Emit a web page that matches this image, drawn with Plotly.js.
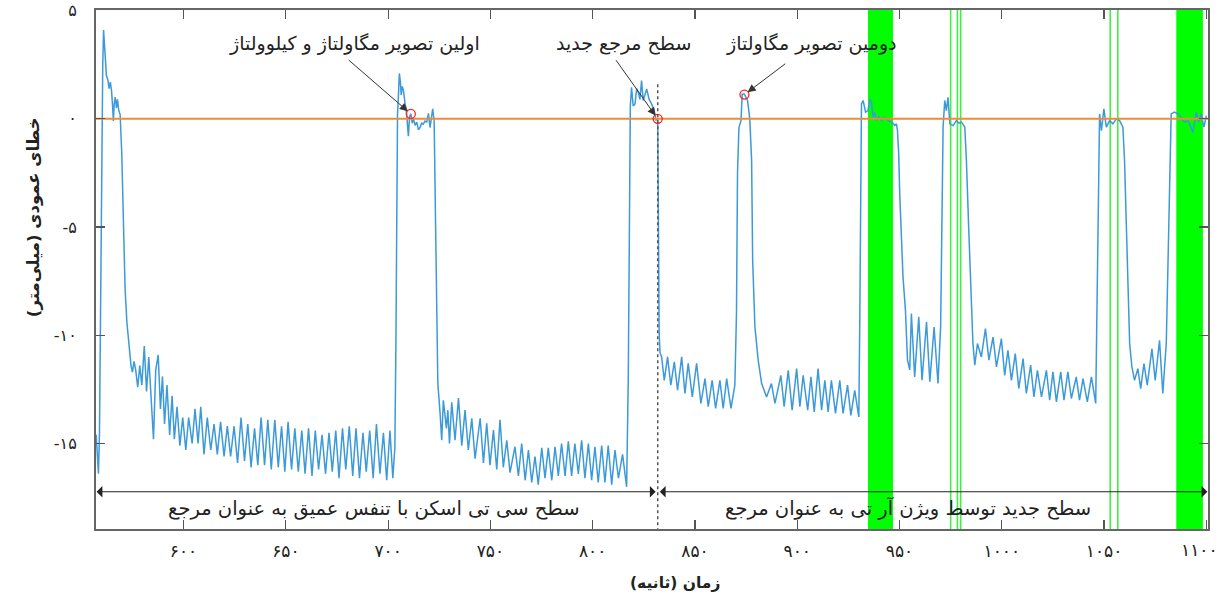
<!DOCTYPE html>
<html>
<head>
<meta charset="utf-8">
<script src="https://cdn.plot.ly/plotly-3.0.1.min.js"></script>
<style>html,body{margin:0;padding:0;background:#fff;}#chart{width:1223px;height:598px;}</style>
</head>
<body>
<div id="chart"></div>
<script>
// ---- data ----
const timeSec = [
557.3,557.9,558.4,558.9,559.3,559.7,560.1,560.5,560.9,561.3,561.8,562.3,563.0,563.6,564.2,564.8,565.3,565.7,566.1,566.6,567.2,567.7,568.3,569.0,569.8,570.6,571.4,572.3,573.3,574.3,575.0,575.8,576.6,577.6,578.6,579.6,580.8,581.9,583.0,584.1,585.3,586.4,587.6,588.7,589.7,590.7,591.9,593.2,594.4,595.5,596.8,598.2,599.6,601.1,602.5,604.2,605.6,607.1,608.4,610.0,611.6,613.3,614.9,616.5,618.1,619.8,621.4,623.0,624.7,626.4,628.1,629.8,631.4,633.0,634.7,636.3,637.9,639.6,641.2,642.9,644.6,646.3,647.9,649.5,651.1,652.8,654.4,656.1,657.8,659.4,661.1,662.8,664.4,666.0,667.7,669.4,671.1,672.7,674.4,676.0,677.7,679.3,681.0,682.7,684.3,686.0,687.7,689.3,691.0,692.7,694.3,696.0,697.7,699.3,700.9,702.3,703.3,703.8,704.2,704.6,705.1,705.5,706.0,706.4,706.9,707.5,708.3,709.0,709.9,710.5,711.1,711.8,712.4,713.2,714.0,714.8,715.6,716.4,717.2,718.0,718.9,719.7,720.5,721.3,721.8,722.5,723.0,723.5,724.3,725.4,726.2,727.0,728.5,729.2,730.0,731.1,732.7,734.4,736.0,737.6,739.2,740.9,742.5,745.0,746.6,748.2,749.8,751.5,753.1,754.7,756.3,758.0,759.6,762.0,763.7,765.3,767.0,768.6,770.2,771.8,773.4,775.1,776.7,778.3,780.0,781.6,783.2,784.8,786.5,788.1,789.7,791.3,793.0,794.6,796.2,797.9,799.5,801.1,802.7,804.4,806.0,807.6,809.3,810.9,812.6,814.6,816.6,817.4,817.9,818.4,819.0,819.8,820.7,821.5,822.3,823.1,823.9,824.7,825.5,826.4,827.6,828.8,830.0,831.0,831.8,832.0,832.2,832.5,832.9,833.7,835.0,836.6,838.2,839.9,841.5,843.5,845.1,846.7,848.7,850.8,852.9,854.9,856.5,858.4,860.1,862.2,863.8,865.5,867.6,869.5,870.3,870.8,871.5,872.5,873.1,874.1,875.7,876.8,877.7,878.2,879.3,880.9,882.6,885.0,887.4,889.1,892.0,893.6,895.6,897.5,899.7,901.3,902.9,905.1,906.7,908.3,910.2,911.9,913.5,915.1,916.7,918.7,920.8,922.4,924.6,926.2,928.1,930.1,930.6,931.0,931.4,932.2,933.4,934.6,935.4,936.3,937.1,937.9,938.7,939.9,941.2,942.4,943.6,944.8,946.1,947.7,948.5,949.0,949.6,950.1,950.9,951.7,952.9,953.9,955.0,955.8,957.4,959.4,961.0,963.2,964.8,966.9,968.8,970.1,970.8,971.3,972.1,972.9,973.7,974.6,976.2,977.8,979.0,980.3,981.9,982.7,983.8,984.8,985.9,986.8,988.1,990.0,992.0,993.7,995.7,997.4,999.8,1001.4,1003.0,1004.7,1006.6,1008.3,1010.4,1012.0,1014.1,1015.7,1017.4,1019.4,1021.8,1023.4,1025.0,1026.7,1028.8,1030.4,1032.3,1034.0,1036.4,1038.0,1039.7,1041.8,1043.8,1045.9,1046.7,1047.3,1047.8,1048.7,1049.9,1051.1,1052.7,1054.3,1056.0,1057.6,1059.2,1060.0,1060.9,1061.7,1062.5,1063.6,1064.9,1066.5,1067.9,1069.5,1071.1,1073.4,1075.0,1077.1,1078.7,1080.4,1081.2,1082.0,1082.8,1084.4,1086.1,1087.7,1089.3,1091.0,1092.6,1093.4,1095.1,1096.2,1097.5,1098.8,1100.0
];
const verticalErrorMm = [
-14.6,-15.8,-16.4,-14.5,-9.5,-3.5,1.2,2.5,4.1,3.6,2.8,2.0,1.8,1.4,1.7,1.3,0.6,-0.1,0.7,1.0,0.5,0.9,0.4,0.2,-1.6,-4.4,-7.8,-9.4,-10.4,-11.4,-11.7,-11.2,-11.6,-12.4,-11.4,-12.3,-10.5,-12.6,-11.0,-13.0,-14.8,-11.6,-10.9,-13.4,-11.9,-14.1,-12.3,-14.6,-12.8,-14.8,-13.3,-15.1,-13.8,-15.3,-13.8,-15.0,-13.4,-15.0,-13.3,-15.5,-13.8,-15.3,-14.1,-15.5,-14.0,-15.6,-14.2,-15.6,-14.2,-15.9,-13.8,-15.8,-14.1,-16.1,-14.3,-16.0,-13.8,-16.0,-13.9,-16.2,-13.9,-16.1,-14.2,-16.3,-14.0,-16.2,-14.3,-16.3,-14.4,-16.4,-14.3,-16.5,-14.4,-16.2,-14.6,-16.4,-14.5,-16.3,-14.4,-16.6,-14.3,-16.2,-14.2,-16.5,-14.3,-16.6,-14.5,-16.3,-14.4,-16.6,-14.1,-16.4,-14.5,-16.7,-14.4,-16.6,-15.2,-10.5,-3.5,0.2,1.2,2.1,1.7,1.1,1.5,1.3,0.7,0.3,-0.8,0.1,0.23,-0.2,0.0,-0.3,-0.15,-0.5,-0.4,-0.2,-0.25,-0.1,-0.15,0.25,-0.4,0.1,0.46,-0.1,-3.4,-8.1,-12.2,-13.6,-14.85,-13.0,-14.3,-13.46,-15.0,-13.1,-14.85,-12.9,-15.1,-13.46,-15.3,-13.84,-15.7,-13.84,-15.9,-14.07,-16.0,-14.38,-16.2,-13.9,-16.1,-14.85,-16.35,-15.15,-16.5,-15.0,-16.7,-15.3,-16.8,-15.6,-16.9,-15.2,-16.6,-15.2,-16.7,-15.15,-16.5,-15.0,-16.5,-14.9,-16.5,-15.0,-16.4,-14.85,-16.6,-15.0,-16.7,-15.15,-16.8,-15.1,-16.8,-15.1,-16.9,-15.3,-16.6,-15.5,-17.0,-12.0,-3.0,0.6,1.46,0.6,0.69,1.4,1.23,0.9,1.77,0.85,1.1,1.38,0.9,0.69,0.4,-0.05,0.0,-3.0,-6.5,-9.9,-10.8,-11.0,-12.08,-11.0,-12.3,-11.23,-12.54,-11.0,-12.69,-11.3,-12.85,-11.3,-13.15,-12.0,-13.3,-12.08,-13.38,-12.08,-13.38,-12.0,-13.38,-12.3,-9.0,-2.5,-0.4,-0.08,1.15,1.15,0.85,0.0,-1.92,-6.5,-9.6,-11.15,-12.23,-12.85,-12.23,-13.15,-11.85,-13.3,-11.62,-13.46,-11.54,-13.3,-11.85,-13.46,-11.92,-13.54,-11.54,-13.46,-12.08,-13.54,-12.08,-13.61,-12.08,-13.61,-12.3,-13.7,-12.54,-13.77,-9.0,-2.0,0.69,0.85,0.31,0.38,0.9,0.77,0.07,0.3,-0.08,0.1,-0.08,0.05,0.0,-0.1,-0.15,-0.3,-0.23,-0.54,-1.6,-3.46,-5.77,-7.3,-8.85,-11.15,-11.6,-9.0,-11.92,-9.15,-12.08,-9.38,-12.15,-9.62,-12.23,-9.6,-4.23,-0.38,0.85,0.38,1.0,-0.23,-0.31,-0.08,-0.2,-0.15,-0.38,-1.92,-5.0,-8.08,-10.4,-11.38,-10.38,-11.0,-9.69,-11.15,-10.08,-11.46,-10.15,-11.85,-10.69,-12.08,-10.85,-12.46,-11.08,-12.69,-11.38,-12.85,-11.62,-12.85,-11.62,-13.0,-11.69,-13.08,-11.69,-13.0,-11.69,-12.92,-11.92,-13.0,-12.0,-13.08,-11.92,-13.15,-8.08,-2.69,0.23,-0.54,0.46,-0.38,-0.08,-0.23,0.0,-0.08,-0.38,-1.92,-5.0,-8.08,-10.38,-11.46,-12.08,-11.54,-12.46,-11.31,-12.3,-10.62,-12.08,-10.23,-12.69,-10.38,-6.54,-1.92,0.23,0.31,0.23,0.07,-0.15,-0.08,-0.46,-0.62,0.31,-0.15,0.23,-0.38,0.15
];
// imaging events (red circles)
const eventTimes  = [711.1, 831.8, 874.2];
const eventErrors = [0.23, 0.0, 1.12];
// reference change time (dotted line)
const referenceSwitchTime = 831.8;
// gating windows (green)
const gateStart = [934.6, 1085.3];
const gateEnd   = [946.8, 1098.3];
const gateLines = [975.0, 978.3, 979.9, 1053.0, 1056.7];
// ticks
const xTickVals = [600, 650, 700, 750, 800, 850, 900, 950, 1000, 1050, 1100];
const xTickText = ['۶۰۰','۶۵۰','۷۰۰','۷۵۰','۸۰۰','۸۵۰','۹۰۰','۹۵۰','۱۰۰۰','۱۰۵۰','۱۱۰۰'];
const yTickVals = [5, 0, -5, -10, -15];
const yTickText = ['۵','۰','-۵','-۱۰','-۱۵'];
const xRange = [557.2, 1100.8];
const yRange = [-18.95, 5.03];

const FONT = 'DejaVu Sans, Noto Sans, sans-serif';
const lastIdx = xTickVals.length - 1;
// the last label sits at the right edge; draw it as an annotation nudged inwards
const axisTickText = xTickText.map((t, i) => i === lastIdx ? '' : t);

const shapes = [];
for (let i = 0; i < gateStart.length; i++) {
  shapes.push({type:'rect', xref:'x', yref:'paper', x0:gateStart[i], x1:gateEnd[i], y0:0, y1:1,
    fillcolor:'#00ff00', line:{width:0}, layer:'below'});
}
gateLines.forEach(g => shapes.push({type:'line', xref:'x', yref:'paper', x0:g, x1:g, y0:0, y1:1,
  line:{color:'#44ee44', width:1.6}, layer:'below'}));
shapes.push({type:'line', xref:'x', yref:'y', x0:referenceSwitchTime, x1:referenceSwitchTime, y0:1.6, y1:yRange[0],
  line:{color:'#555555', width:1.5, dash:'dot'}, layer:'above'});

const arrowY = -17.23;
const annotations = [
  // bottom double arrows
  {x:xRange[0]+0.3, y:arrowY, ax:referenceSwitchTime-0.3, ay:arrowY, xref:'x', yref:'y', axref:'x', ayref:'y',
   text:'', showarrow:true, arrowside:'end+start', arrowhead:1, arrowsize:1.6, arrowwidth:1.2, arrowcolor:'#222'},
  {x:xRange[1]-0.3, y:arrowY, ax:referenceSwitchTime+0.3, ay:arrowY, xref:'x', yref:'y', axref:'x', ayref:'y',
   text:'', showarrow:true, arrowside:'end+start', arrowhead:1, arrowsize:1.6, arrowwidth:1.2, arrowcolor:'#222'},
  {x:692.9, y:-18.0, xref:'x', yref:'y', text:'سطح سی تی اسکن با تنفس عمیق به عنوان مرجع', showarrow:false,
   font:{family:FONT, size:19.5, color:'#222'}},
  {x:954.3, y:-18.0, xref:'x', yref:'y', text:'سطح جدید توسط ویژن آر تی به عنوان مرجع', showarrow:false,
   font:{family:FONT, size:19.5, color:'#222'}},
  // top labels
  {x:683.4, y:3.5, xref:'x', yref:'y', text:'اولین تصویر مگاولتاژ و کیلوولتاژ', showarrow:false,
   font:{family:FONT, size:19, color:'#222'}},
  {x:815.0, y:3.5, xref:'x', yref:'y', text:'سطح مرجع جدید', showarrow:false,
   font:{family:FONT, size:19, color:'#222'}},
  {x:907.1, y:3.5, xref:'x', yref:'y', text:'دومین تصویر مگاولتاژ', showarrow:false,
   font:{family:FONT, size:19, color:'#222'}},
  // pointer arrows
  {x:eventTimes[0], y:eventErrors[0], ax:680.0, ay:2.78, xref:'x', yref:'y', axref:'x', ayref:'y', text:'',
   showarrow:true, arrowhead:2, arrowsize:1.6, arrowwidth:1, arrowcolor:'#333', standoff:4},
  {x:eventTimes[1], y:eventErrors[1], ax:810.9, ay:2.78, xref:'x', yref:'y', axref:'x', ayref:'y', text:'',
   showarrow:true, arrowhead:2, arrowsize:1.6, arrowwidth:1, arrowcolor:'#333', standoff:4},
  {x:eventTimes[2], y:eventErrors[2], ax:894.9, ay:2.6, xref:'x', yref:'y', axref:'x', ayref:'y', text:'',
   showarrow:true, arrowhead:2, arrowsize:1.6, arrowwidth:1, arrowcolor:'#333', standoff:4},
  // last x tick label
  {x:xTickVals[lastIdx], y:0, xref:'x', yref:'paper', yanchor:'middle', xanchor:'center', xshift:-7, yshift:-21,
   text:xTickText[lastIdx], showarrow:false, font:{family:FONT, size:17, color:'#222'}},
  // axis titles
  {x:0.521, y:-0.125, xref:'paper', yref:'paper', text:'<b>زمان (ثانیه)</b>', showarrow:false,
   font:{family:FONT, size:15.5, color:'#222'}},
  {x:-0.0665, y:0.601, xref:'paper', yref:'paper', text:'<b>خطای عمودی (میلی‌متر)</b>', showarrow:false, textangle:-90,
   font:{family:FONT, size:16.5, color:'#222'}}
];

const traces = [
  {x:timeSec, y:verticalErrorMm, type:'scatter', mode:'lines', line:{color:'#3c9ad8', width:1.5}, hoverinfo:'skip'},
  {x:xRange, y:[0,0], type:'scatter', mode:'lines', line:{color:'#ee8a3c', width:2}, hoverinfo:'skip'},
  {x:eventTimes, y:eventErrors, type:'scatter', mode:'markers',
   marker:{symbol:'circle-open', size:9, color:'#ff2222', line:{width:1.3}}, hoverinfo:'skip'}
];

const layout = {
  width:1223, height:598,
  margin:{l:96, r:15, t:10, b:69},
  paper_bgcolor:'#fff', plot_bgcolor:'#fff',
  showlegend:false,
  xaxis:{range:xRange, tickvals:xTickVals, ticktext:axisTickText, ticks:'inside', ticklen:9, tickwidth:1.2,
    tickcolor:'#555', showline:true, linecolor:'#666', linewidth:2, mirror:'ticks', showgrid:false, zeroline:false,
    tickfont:{family:FONT, size:17, color:'#222'}, ticklabelstandoff:6},
  yaxis:{range:yRange, tickvals:yTickVals, ticktext:yTickText, ticks:'inside', ticklen:9, tickwidth:1.2,
    tickcolor:'#555', showline:true, linecolor:'#666', linewidth:2, mirror:'ticks', showgrid:false, zeroline:false,
    tickfont:{family:FONT, size:16, color:'#222'}, ticklabelstandoff:14},
  shapes:shapes,
  annotations:annotations
};

Plotly.newPlot('chart', traces, layout, {staticPlot:true, displayModeBar:false});
</script>
</body>
</html>
